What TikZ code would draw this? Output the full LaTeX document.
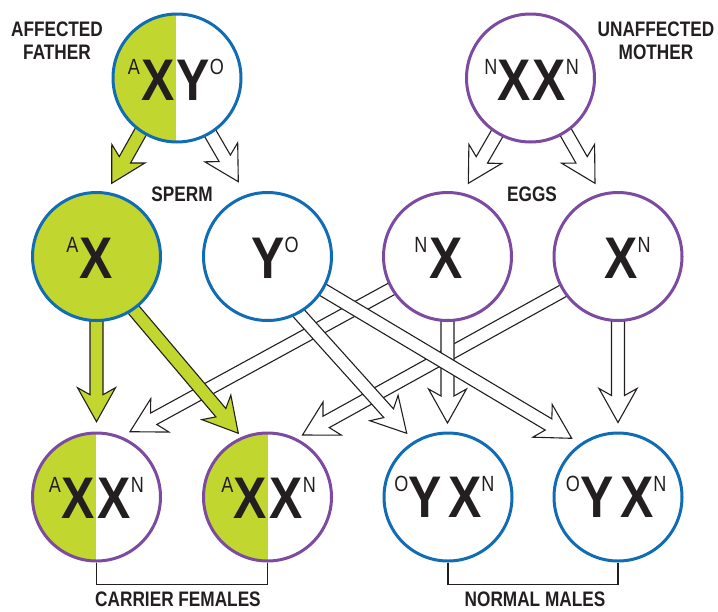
\documentclass[tikz,border=0pt]{standalone}
\usepackage{fontspec}
\setmainfont{Liberation Sans}
\newfontfamily\condf[FakeStretch=0.82]{Liberation Sans}
\newfontfamily\bcondf[FakeStretch=0.85]{Liberation Sans}
\usetikzlibrary{calc}
\pgfdeclarelayer{arrows}
\pgfsetlayers{arrows,main}
\definecolor{lime}{RGB}{194,214,48}
\definecolor{cblue}{RGB}{16,108,180}
\definecolor{cpurple}{RGB}{124,74,160}
\definecolor{ink}{RGB}{35,31,32}
\newcommand\labf{\condf\bfseries\fontsize{21}{23}\selectfont}
\newcommand\bigf{\bcondf\bfseries\fontsize{58.7}{60}\selectfont}
\newcommand\sX[1]{\raisebox{26pt}{\condf\mdseries\fontsize{22}{23}\selectfont #1}}
\tikzset{
  cir/.style={circle, minimum size=128pt, inner sep=0pt, line width=3pt, fill=white},
  arrowline/.style={draw=ink, line width=1.1pt, line join=miter, miter limit=20},
  lab/.style={font=\labf, text=ink, inner sep=0pt},
  big/.style={font=\bigf, text=ink, inner sep=0pt},
  bracket/.style={draw=ink, line width=1.1pt},
}
\newcommand\splitcirc[5]{% name, x, y, outline color, split x
  \node[cir, draw=none] (#1) at (#2,#3) {};
  \begin{scope}
    \clip (#1.center) circle[radius=64pt];
    \fill[lime] ($(#1.center)+(-70,-70)$) rectangle (#5,#3+70);
  \end{scope}
  \draw[line width=3pt, #4] (#1.center) circle[radius=64pt];
}
\newcommand\blockarr[4]{% fill, source node, border angle, tip coordinate
  \coordinate (ba-b) at (#2.#3);
  \coordinate (ba-t) at (#4);
  \coordinate (ba-s) at ($(ba-b)!-22pt!(ba-t)$);
  \coordinate (ba-c) at ($(ba-t)!27pt!(ba-b)$);
  \coordinate (ba-h) at ($(ba-t)!34pt!(ba-b)$);
  \draw[arrowline, fill=#1]
    ($(ba-s)!6.5pt!90:(ba-t)$) -- ($(ba-c)!6.5pt!90:(ba-t)$) --
    ($(ba-h)!19pt!90:(ba-t)$) -- (ba-t) --
    ($(ba-h)!19pt!-90:(ba-t)$) -- ($(ba-c)!6.5pt!-90:(ba-t)$) --
    ($(ba-s)!6.5pt!-90:(ba-t)$) -- cycle;
}
\begin{document}
\begin{tikzpicture}[x=1pt, y=-1pt]
\useasboundingbox (0,0) rectangle (718,611);

% ---- circles ----
\splitcirc{father}{177}{78}{cblue}{176}
\node[cir, draw=cpurple] (mother) at (530.5,78) {};
\node[cir, draw=cblue, fill=lime] (ax) at (96.5,256.5) {};
\node[cir, draw=cblue] (yo) at (267.5,256.5) {};
\node[cir, draw=cpurple] (nx) at (447.5,256.5) {};
\node[cir, draw=cpurple] (xn) at (618,256.5) {};
\splitcirc{c1}{96.5}{497}{cpurple}{96}
\splitcirc{c2}{267.5}{497}{cpurple}{268}
\node[cir, draw=cblue] (m1) at (448,497) {};
\node[cir, draw=cblue] (m2) at (618,497) {};

% ---- letters ----
\node[big, anchor=base east] (fa-l) at (174.5,100) {\sX{A}\kern1pt X};
\node[big, anchor=base west] (fa-r) at (176.5,100) {Y\sX{O}};
\node[big, anchor=base east] (mo-l) at (531,100) {\sX{N}X};
\node[big, anchor=base west] (mo-r) at (532.5,100) {X\sX{N}};
\node[big, anchor=base] (ax-t) at (96,278) {\llap{\sX{A}\kern1pt}X};
\node[big, anchor=base] (yo-t) at (268,278) {Y\rlap{\sX{O}}};
\node[big, anchor=base] (nx-t) at (446,278) {\llap{\sX{N}\kern2pt}X};
\node[big, anchor=base] (xn-t) at (621,278) {X\rlap{\sX{N}}};
\node[big, anchor=base east] (c1-l) at (94.5,518) {\sX{A}X};
\node[big, anchor=base west] (c1-r) at (97.5,518) {X\sX{N}};
\node[big, anchor=base east] (c2-l) at (267,518) {\sX{A}X};
\node[big, anchor=base west] (c2-r) at (269.5,518) {X\sX{N}};
\node[big, anchor=base east] (m1-l) at (442,517) {\sX{O}Y};
\node[big, anchor=base west] (m1-r) at (448,517) {X\sX{N}};
\node[big, anchor=base east] (m2-l) at (613.5,517) {\sX{O}Y};
\node[big, anchor=base west] (m2-r) at (620,517) {X\sX{N}};

% ---- labels ----
\node[lab, align=center, anchor=north] (father-lab) at (57,22) {AFFECTED\\FATHER};
\node[lab, align=center, anchor=north] (mother-lab) at (656,22) {UNAFFECTED\\MOTHER};
\node[lab, anchor=base] (sperm) at (182,201) {SPERM};
\node[lab, anchor=base] (eggs) at (532,201) {EGGS};
\node[lab, anchor=base] (carrier) at (178,606) {CARRIER FEMALES};
\node[lab, anchor=base] (normal) at (535,606) {NORMAL MALES};

% ---- brackets ----
\draw[bracket] (c1.south) -- ++(0,22) -| (c2.south);
\draw[bracket] (m1.south) -- ++(0,22) -| (m2.south);

% ---- arrow tips ----
\coordinate (t1) at (111.7,183.3);
\coordinate (t2) at (238.3,181.7);
\coordinate (t3) at (468.3,183.3);
\coordinate (t4) at (595,183.3);
\coordinate (t5) at (96.5,421.7);
\coordinate (t6) at (238.3,433.3);
\coordinate (t7) at (406.7,433.3);
\coordinate (t8) at (571.7,438.3);
\coordinate (t9) at (130,431.7);
\coordinate (t10) at (447.5,423);
\coordinate (t11) at (302.5,435);
\coordinate (t12) at (618,422.5);

% ---- arrows (under the circles) ----
\begin{pgfonlayer}{arrows}
\blockarr{white}{father}{301}{t2}
\blockarr{white}{mother}{239}{t3}
\blockarr{white}{mother}{303}{t4}
\blockarr{white}{xn}{212.4}{t11}
\blockarr{white}{nx}{210.6}{t9}
\blockarr{white}{nx}{270}{t10}
\blockarr{white}{xn}{270}{t12}
\blockarr{white}{yo}{299.4}{t7}
\blockarr{white}{yo}{329}{t8}
\blockarr{lime}{father}{236}{t1}
\blockarr{lime}{ax}{270}{t5}
\blockarr{lime}{ax}{305}{t6}
\end{pgfonlayer}
\end{tikzpicture}
\end{document}
